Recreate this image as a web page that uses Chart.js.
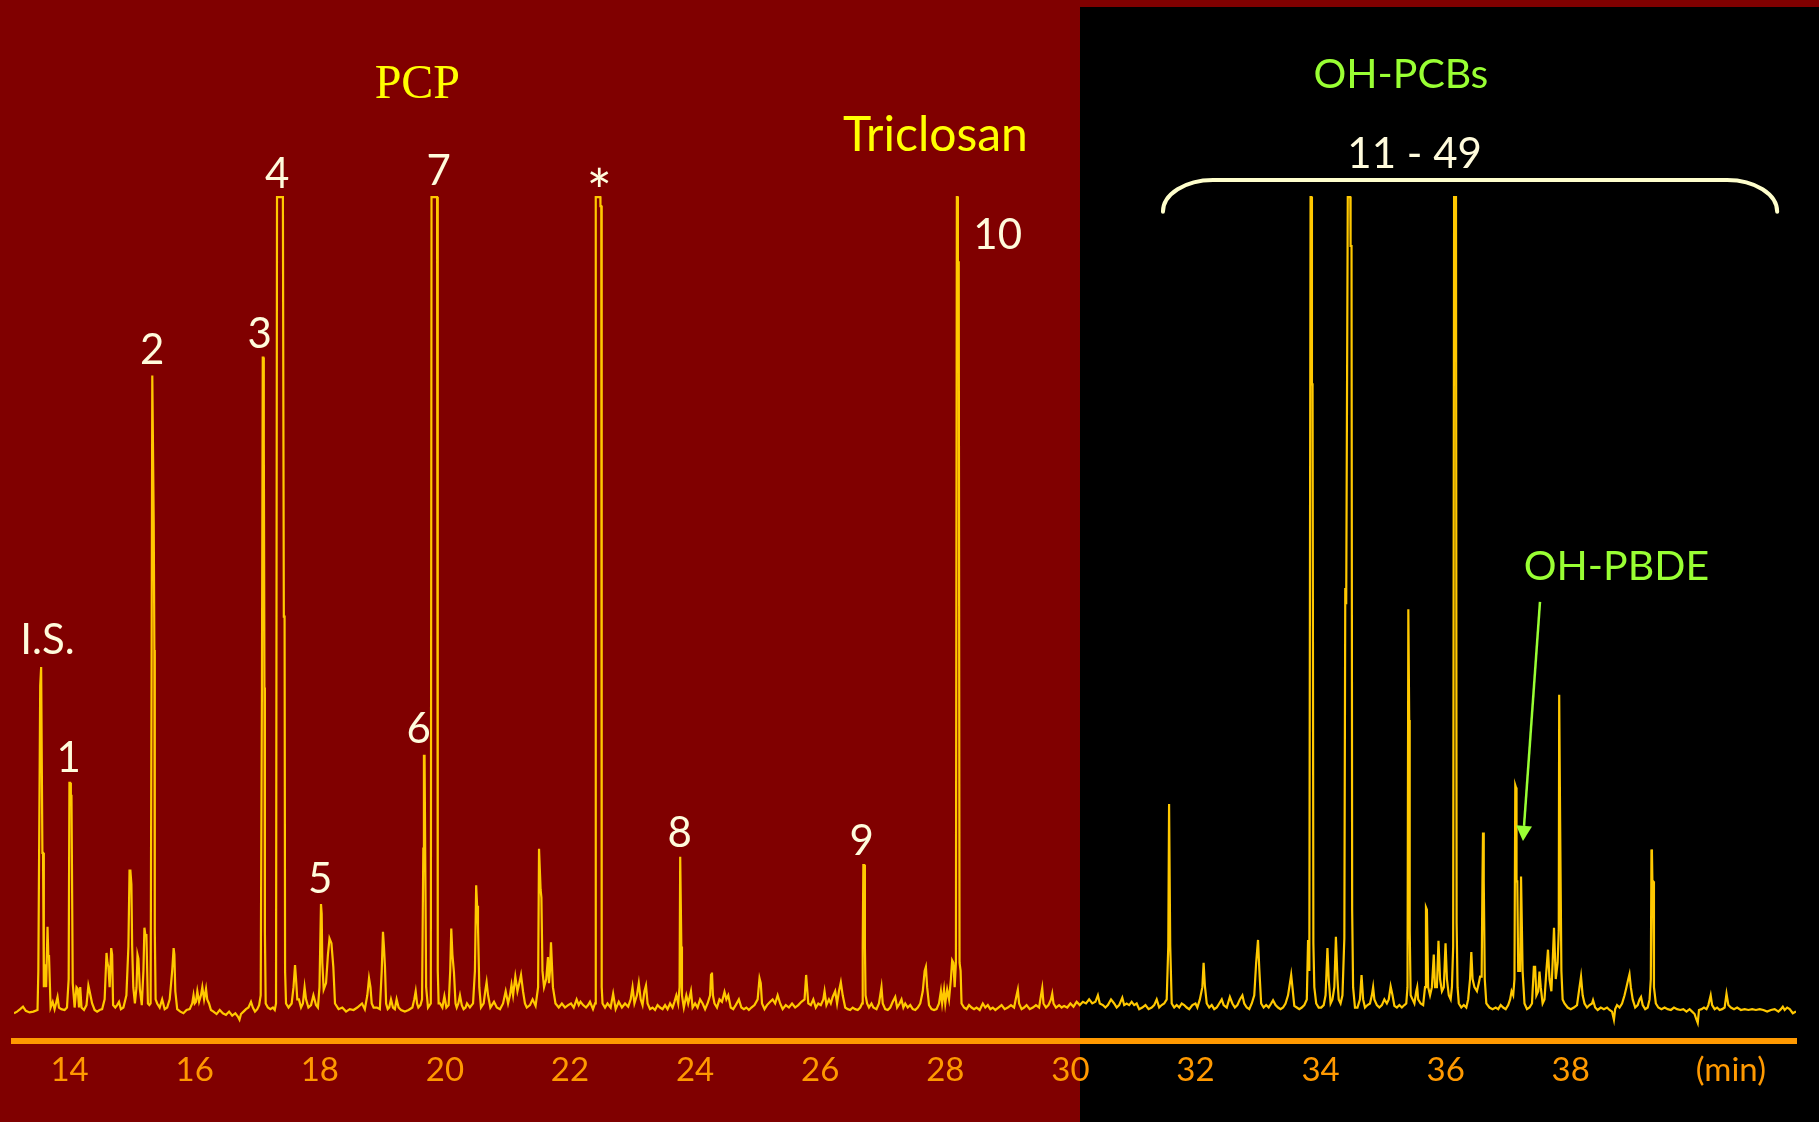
<!DOCTYPE html>
<html>
<head>
<meta charset="utf-8">
<script src="https://cdn.jsdelivr.net/npm/chart.js@4.4.1/dist/chart.umd.min.js"></script>
<style>
html,body{margin:0;padding:0;background:#800000;overflow:hidden}
canvas{display:block}
</style>
</head>
<body>
<canvas id="c" width="1819" height="1122"></canvas>
<script>
// ---------- DATA ----------
// Retention time (min) vs detector signal (% of the clipped full scale)
const chromatogram = [
[13.111,-0.2],[13.16,0.0],[13.21,0.3],[13.255,0.6],[13.30,0.1],[13.36,-0.1],[13.42,0.0],[13.487,0.2],
[13.50,5],[13.53,40],[13.545,42.3],[13.555,42.3],[13.565,19.5],[13.575,19.5],[13.588,3],[13.61,5.8],[13.625,3],
[13.647,10.4],[13.66,6.8],[13.671,6.8],[13.696,0.5],[13.73,1.2],[13.76,0.3],[13.807,1.8],[13.83,0.5],[13.867,0.3],
[13.92,0.2],[13.958,0.5],[13.985,4],[13.997,28.1],[14.008,28.1],[14.02,26.5],[14.03,26.5],[14.05,3.5],[14.08,0.5],
[14.11,3.0],[14.13,2.8],[14.15,0.5],[14.17,3.0],[14.19,0.5],[14.23,0.2],[14.27,0.8],[14.30,3.2],[14.32,2.5],
[14.36,1.0],[14.40,0.2],[14.44,0.0],[14.48,0.2],[14.52,0.3],[14.56,1.5],[14.59,7.2],[14.605,6.0],[14.62,5.5],
[14.64,3],[14.665,7.8],[14.68,7.0],[14.695,0.8],[14.73,0.5],[14.76,0.8],[14.79,1.2],[14.82,0.3],[14.86,0.5],
[14.908,2.0],[14.94,8],[14.958,17.3],[14.972,17.3],[14.988,15.6],[15.00,8],[15.018,3],[15.044,1],[15.07,3],
[15.085,7],[15.10,6.5],[15.123,2.8],[15.154,0.8],[15.18,5],[15.196,10.3],[15.212,9.4],[15.228,9.4],[15.252,1],
[15.275,0.8],[15.295,1.0],[15.31,40],[15.322,78.1],[15.332,78.1],[15.345,60],[15.355,44.4],[15.362,10],[15.375,1.5],
[15.40,1.0],[15.44,0.5],[15.48,1.5],[15.52,0.3],[15.56,0.5],[15.60,1.5],[15.64,5.0],[15.663,7.8],[15.675,7.0],
[15.69,2.5],[15.72,0.3],[15.77,0.0],[15.82,-0.2],[15.87,0.2],[15.92,0.3],[15.96,1.0],[15.981,2.0],[16.00,1.0],
[16.02,1.2],[16.042,2.5],[16.07,1.2],[16.10,2.0],[16.122,3.0],[16.15,1.5],[16.181,2.8],[16.20,1.5],[16.229,1.0],
[16.26,0.2],[16.30,0.0],[16.35,-0.3],[16.40,0.2],[16.45,-0.2],[16.50,-0.4],[16.55,0.0],[16.60,-0.5],[16.65,-0.2],
[16.69,-0.6],[16.716,-1.0],[16.74,-0.3],[16.78,0.0],[16.82,0.3],[16.86,0.5],[16.90,1.2],[16.93,0.5],[16.964,0.0],
[17.00,0.3],[17.03,0.8],[17.055,2],[17.075,40],[17.088,80.3],[17.097,80.3],[17.105,70],[17.115,39.8],[17.122,10],
[17.135,1],[17.17,0.5],[17.21,0.3],[17.25,0.5],[17.28,0.2],[17.30,1],[17.316,100],[17.41,100],[17.425,48.5],
[17.437,48.5],[17.445,5],[17.46,1],[17.50,0.5],[17.55,1.0],[17.58,3],[17.604,5.7],[17.62,4],[17.64,1.5],
[17.666,1.5],[17.70,0.5],[17.73,1.0],[17.757,3.0],[17.78,1.5],[17.818,0.5],[17.86,0.8],[17.898,2.0],[17.939,0.8],
[17.97,0.5],[17.995,3],[18.019,13.2],[18.03,12],[18.04,6],[18.062,2.7],[18.10,3.5],[18.13,7],[18.155,9.0],
[18.186,8.4],[18.216,5.5],[18.243,1.0],[18.30,0.3],[18.36,0.5],[18.42,0.0],[18.48,0.3],[18.54,0.2],[18.60,0.5],
[18.675,1.0],[18.72,0.3],[18.76,2.0],[18.787,4.1],[18.81,3.0],[18.83,1.0],[18.86,0.5],[18.914,0.5],[18.96,0.3],
[18.99,5],[19.01,9.8],[19.025,8],[19.042,5.5],[19.06,1.0],[19.086,0.3],[19.11,0.5],[19.138,1.5],[19.17,0.5],
[19.20,0.3],[19.228,1.5],[19.26,0.5],[19.30,0.2],[19.36,0.0],[19.42,0.2],[19.48,0.5],[19.51,1.5],[19.533,2.5],
[19.555,1.0],[19.576,0.5],[19.61,0.8],[19.635,1.5],[19.655,20],[19.665,31.4],[19.675,31.4],[19.685,20],[19.70,3],
[19.73,0.5],[19.775,1],[19.786,100],[19.875,100],[19.886,5],[19.90,1],[19.922,1.0],[19.96,0.5],[19.992,1.9],
[20.024,0.5],[20.06,0.8],[20.085,5],[20.102,10.2],[20.12,7],[20.145,4.8],[20.17,1],[20.189,0.5],[20.215,1.0],
[20.241,2.0],[20.27,0.8],[20.299,0.3],[20.33,0.5],[20.353,1.0],[20.40,0.5],[20.45,1.0],[20.48,5],[20.50,15.5],
[20.515,13],[20.529,10.5],[20.55,3],[20.577,0.5],[20.62,1.0],[20.645,2.5],[20.667,3.6],[20.69,2],[20.727,0.5],
[20.785,1.2],[20.83,0.5],[20.881,0.3],[20.93,1.0],[20.972,2.5],[21.01,1.0],[21.04,2.0],[21.065,3.3],[21.09,2],
[21.126,4.3],[21.16,2.5],[21.19,3.5],[21.217,4.5],[21.249,2.5],[21.28,1.0],[21.309,0.5],[21.36,0.8],[21.402,1.5],
[21.45,0.7],[21.49,3],[21.505,20],[21.515,20],[21.53,15],[21.543,14],[21.56,5],[21.585,3],[21.62,4],[21.648,6.7],
[21.664,3.5],[21.68,5],[21.696,8.5],[21.71,6],[21.727,3],[21.768,1.0],[21.82,0.5],[21.87,1.0],[21.92,0.5],
[21.97,0.8],[22.016,1.0],[22.06,0.5],[22.106,1.5],[22.14,0.8],[22.168,1.2],[22.21,0.8],[22.256,0.5],[22.29,0.8],
[22.32,1.2],[22.368,0.3],[22.40,1],[22.412,100],[22.485,100],[22.487,98.9],[22.50,98.9],[22.507,3],[22.52,1],
[22.56,0.5],[22.60,1.0],[22.65,0.5],[22.69,2.2],[22.73,0.3],[22.78,1.2],[22.83,0.5],[22.88,1.0],[22.93,0.6],
[22.97,1.5],[23.00,3.0],[23.03,1.0],[23.07,2.0],[23.10,3.5],[23.13,1.5],[23.16,0.8],[23.19,2.5],[23.215,3.2],
[23.24,1.0],[23.28,0.3],[23.32,0.5],[23.36,0.2],[23.40,0.8],[23.44,0.5],[23.48,0.3],[23.52,0.8],[23.56,0.3],
[23.60,1.0],[23.64,0.5],[23.67,1.2],[23.70,2.0],[23.73,1.0],[23.752,3],[23.762,19],[23.772,19],[23.78,8],
[23.79,2],[23.82,0.5],[23.86,2.0],[23.89,1.0],[23.934,2.5],[23.96,0.5],[24.00,1.0],[24.04,0.5],[24.08,1.5],
[24.12,1.0],[24.16,0.3],[24.20,1.0],[24.24,2.0],[24.255,4.5],[24.27,4.8],[24.285,2],[24.31,1.0],[24.35,0.5],
[24.39,1.5],[24.43,1.2],[24.47,2.4],[24.50,1.5],[24.53,2.0],[24.57,0.5],[24.61,0.3],[24.65,0.8],[24.70,1.5],
[24.74,0.5],[24.78,0.3],[24.82,0.5],[24.86,0.2],[24.90,0.5],[24.95,0.8],[25.00,1.5],[25.03,4.1],[25.05,3.5],
[25.07,1.0],[25.11,0.3],[25.15,0.8],[25.20,1.2],[25.24,1.5],[25.28,1.0],[25.32,2.0],[25.36,1.0],[25.40,0.3],
[25.45,0.8],[25.50,0.5],[25.55,1.0],[25.60,0.5],[25.65,0.8],[25.70,1.2],[25.75,1.5],[25.775,4.5],[25.79,3],
[25.81,1.0],[25.85,0.8],[25.89,1.5],[25.93,0.5],[25.97,1.0],[26.01,0.8],[26.05,1.5],[26.07,2.5],[26.10,0.8],
[26.14,1.5],[26.17,1.0],[26.20,1.8],[26.24,2.5],[26.27,1.0],[26.30,2.5],[26.33,3.6],[26.36,2.0],[26.40,0.5],
[26.44,0.3],[26.48,0.2],[26.52,0.5],[26.56,0.3],[26.60,0.2],[26.64,0.5],[26.67,1.0],[26.68,8],[26.69,18],
[26.705,18],[26.715,8],[26.725,2],[26.75,1.0],[26.78,0.5],[26.82,1.0],[26.85,0.5],[26.90,0.3],[26.94,1.0],
[26.97,2.5],[26.98,3.0],[27.00,1.0],[27.04,0.3],[27.08,0.2],[27.12,0.5],[27.16,1.2],[27.20,1.8],[27.23,0.5],
[27.27,1.0],[27.30,1.5],[27.33,0.5],[27.36,1.0],[27.40,0.5],[27.44,0.8],[27.48,0.3],[27.52,0.2],[27.56,0.5],
[27.60,1.0],[27.64,2.5],[27.67,5.0],[27.69,5.5],[27.71,3.0],[27.74,0.8],[27.78,0.3],[27.82,0.2],[27.86,0.3],
[27.90,1.0],[27.93,2.5],[27.95,1.0],[27.98,2.7],[28.00,1.0],[28.03,2.7],[28.06,1.5],[28.09,4.0],[28.11,6.3],
[28.13,6.0],[28.15,3],[28.17,6],[28.185,100],[28.197,100],[28.202,92],[28.215,92],[28.228,6],[28.245,5],[28.26,1],
[28.30,0.5],[28.34,0.3],[28.38,0.8],[28.42,0.5],[28.46,0.3],[28.50,0.5],[28.55,0.2],[28.60,1.0],[28.64,0.5],
[28.68,0.8],[28.72,0.3],[28.76,0.5],[28.80,0.2],[28.85,0.5],[28.90,0.8],[28.95,0.3],[29.00,0.5],[29.05,0.8],
[29.10,0.5],[29.14,2.0],[29.16,2.7],[29.18,1.0],[29.22,0.3],[29.26,0.5],[29.30,0.8],[29.35,0.3],[29.40,0.5],
[29.45,0.8],[29.50,0.5],[29.53,2.0],[29.55,2.9],[29.57,1.0],[29.61,0.5],[29.65,0.8],[29.69,1.5],[29.71,2.2],
[29.73,1.0],[29.77,0.5],[29.82,0.8],[29.86,0.5],[29.90,0.7],[29.95,0.5],[30.00,1.0],[30.05,0.6],[30.10,1.2],
[30.15,0.8],[30.20,1.2],[30.25,1.0],[30.30,1.5],[30.35,1.0],[30.40,1.2],[30.44,2.0],[30.47,1.0],[30.52,0.8],
[30.56,0.5],[30.60,0.8],[30.65,1.5],[30.70,1.0],[30.74,0.5],[30.78,0.8],[30.83,1.7],[30.86,0.8],[30.90,1.0],
[30.94,0.8],[30.98,1.2],[31.02,0.8],[31.06,1.0],[31.10,0.3],[31.15,0.5],[31.20,0.8],[31.25,0.3],[31.30,0.5],
[31.34,0.8],[31.38,1.5],[31.42,0.5],[31.46,0.8],[31.50,1.0],[31.54,1.5],[31.565,8],[31.578,25.5],[31.588,25.5],
[31.596,8.2],[31.606,8.2],[31.62,1.0],[31.66,0.5],[31.70,0.8],[31.74,0.5],[31.78,1.0],[31.82,0.8],[31.86,0.5],
[31.90,0.3],[31.95,0.8],[32.00,1.0],[32.03,0.5],[32.07,1.5],[32.11,3],[32.13,6],[32.15,3.2],[32.18,1],[32.22,0.5],
[32.26,0.8],[32.30,0.3],[32.34,0.5],[32.38,1.0],[32.42,1.5],[32.45,0.8],[32.50,0.5],[32.55,1.8],[32.59,1.0],
[32.63,0.5],[32.67,0.8],[32.71,1.5],[32.75,2.0],[32.78,1.0],[32.82,0.5],[32.86,0.3],[32.90,1.0],[32.94,2.0],
[32.97,6],[33.00,8.8],[33.02,5.3],[33.05,1],[33.09,0.5],[33.13,0.8],[33.17,0.5],[33.21,1.0],[33.24,1.4],[33.28,0.8],
[33.32,0.5],[33.36,0.3],[33.40,0.5],[33.44,1.0],[33.48,2.0],[33.51,3.5],[33.53,4.5],[33.55,3.0],[33.58,0.7],
[33.62,0.5],[33.66,0.3],[33.70,0.5],[33.74,0.8],[33.78,1.5],[33.80,8.8],[33.82,5],[33.84,100],[33.855,100],
[33.862,77],[33.872,77],[33.885,8.4],[33.90,3],[33.93,1],[33.97,0.5],[34.01,0.5],[34.05,0.8],[34.08,2],[34.11,7.8],
[34.13,4],[34.16,1.0],[34.19,1.5],[34.22,3],[34.245,9.2],[34.27,4],[34.29,1.5],[34.32,1.0],[34.35,2.0],[34.38,9],
[34.395,52],[34.41,50],[34.435,100],[34.475,100],[34.48,94],[34.495,94],[34.505,12.5],[34.52,3],[34.55,0.5],
[34.59,0.5],[34.63,1.5],[34.655,4.5],[34.68,1.5],[34.71,0.5],[34.75,0.8],[34.79,1.0],[34.82,2],[34.84,3],
[34.86,1.5],[34.90,0.8],[34.94,0.5],[34.98,0.8],[35.02,1.5],[35.06,1.0],[35.09,1.5],[35.12,3.1],[35.15,2.0],
[35.18,0.7],[35.22,0.5],[35.26,0.8],[35.30,0.5],[35.34,0.8],[35.37,1.0],[35.39,3],[35.403,49.4],[35.41,49.4],
[35.417,35.8],[35.425,10],[35.44,2],[35.47,1.5],[35.50,1.0],[35.53,2.5],[35.545,3],[35.56,1.5],[35.60,1.0],
[35.64,0.8],[35.67,3],[35.685,12.8],[35.70,12.5],[35.72,3],[35.75,2],[35.78,3],[35.81,7],[35.83,3],[35.86,3],
[35.885,8.7],[35.91,4],[35.94,2.5],[35.97,3],[35.998,8.4],[36.02,4],[36.05,2],[36.08,1.5],[36.10,3],[36.12,8],
[36.135,100],[36.165,100],[36.175,10.9],[36.19,3],[36.21,1.0],[36.25,0.5],[36.29,0.8],[36.33,0.5],[36.36,1.5],
[36.39,4],[36.41,7.3],[36.43,4],[36.46,3],[36.50,2.5],[36.53,3.5],[36.55,4.3],[36.575,4.3],[36.588,16],[36.597,22],
[36.606,22],[36.612,16],[36.625,4],[36.65,1.0],[36.70,0.5],[36.75,0.3],[36.80,0.5],[36.84,0.3],[36.88,0.8],
[36.92,0.5],[36.96,0.3],[37.00,0.8],[37.03,1.5],[37.054,2.5],[37.08,2],[37.10,4],[37.113,27.8],[37.125,27.5],
[37.133,16],[37.145,16],[37.16,5],[37.19,5],[37.205,16.6],[37.22,16.6],[37.23,5],[37.26,1.0],[37.30,0.3],
[37.34,0.5],[37.38,1],[37.41,5.5],[37.43,5.5],[37.45,2],[37.48,2.5],[37.50,4.9],[37.52,3],[37.55,1.0],[37.58,1.5],
[37.61,5],[37.636,7.6],[37.66,4],[37.69,2.5],[37.71,6],[37.732,10.3],[37.76,4],[37.79,6],[37.808,10],[37.815,38.9],
[37.823,38.9],[37.83,23.3],[37.84,23.3],[37.85,5],[37.87,1.5],[37.90,1.0],[37.95,0.5],[38.00,0.3],[38.05,0.5],
[38.10,0.8],[38.14,3],[38.164,4.3],[38.19,2],[38.22,1.0],[38.26,0.5],[38.30,0.8],[38.34,1.0],[38.356,1.4],
[38.39,0.5],[38.43,0.2],[38.48,0.5],[38.53,0.3],[38.58,0.5],[38.62,0.2],[38.66,0.0],[38.69,-1.0],[38.71,0.3],
[38.74,0.8],[38.78,0.5],[38.82,1.0],[38.86,2],[38.89,3.0],[38.92,4],[38.939,4.6],[38.96,3],[38.99,1.5],[39.03,0.5],
[39.07,0.8],[39.10,1.5],[39.123,1.8],[39.15,0.8],[39.19,0.3],[39.23,0.5],[39.26,1.5],[39.28,4],[39.29,19.9],
[39.298,19.5],[39.305,16],[39.315,16],[39.33,3],[39.36,1.0],[39.40,0.5],[39.45,0.3],[39.50,0.5],[39.55,0.3],
[39.60,0.2],[39.65,0.5],[39.70,0.3],[39.75,0.2],[39.80,0.3],[39.85,0.0],[39.90,0.3],[39.94,0.0],[39.98,-0.3],
[40.01,-1.0],[40.03,-1.4],[40.05,0.2],[40.09,0.3],[40.13,0.5],[40.17,0.3],[40.20,0.8],[40.237,2],[40.26,0.8],
[40.30,0.3],[40.34,0.5],[40.38,0.2],[40.42,0.3],[40.46,0.5],[40.49,2.2],[40.52,0.8],[40.56,0.5],[40.61,0.3],
[40.66,0.5],[40.72,0.2],[40.78,0.3],[40.84,0.2],[40.90,0.3],[40.96,0.2],[41.02,0.3],[41.08,0.2],[41.14,0.0],
[41.20,0.2],[41.26,0.3],[41.32,0.0],[41.36,0.3],[41.39,0.6],[41.42,0.2],[41.46,0.5],[41.50,0.3],[41.55,-0.2],
[41.601,0.0]
];

const tickValues = [14,16,18,20,22,24,26,28,30,32,34,36,38];
const unitLabel = '(min)';
const unitLabelAt = 40.56;

// Peak labels: text, retention time, signal level of the label centre
const peakLabelText  = ['I.S.','1','2','3','4','5','6','7','*','8','9','10'];
const peakLabelTime  = [13.655,13.990,15.317,17.036,17.316,18.002,19.585,19.906,22.463,23.758,26.661,28.858];
const peakLabelLevel = [45.86,31.38,81.46,83.43,103.07,16.52,34.94,103.44,102.52,22.17,21.07,95.58];

// Group titles
const groupText  = ['PCP','Triclosan','OH-PCBs','11 - 49','OH-PBDE'];
const groupTime  = [19.554,27.820,35.285,35.509,38.724];
const groupLevel = [114.18,107.92,115.22,105.52,54.82];

// Bracket over peaks 11-49 (time range, end level, top level)
const bracketTime = [31.48,41.30];
const bracketLevel = [98.2,102.1];
// Arrow to the OH-PBDE peak (from / to)
const arrowTime = [37.508,37.236];
const arrowLevel = [50.3,20.96];
// Start of the OH-PCB elution window (black panel)
const panelStart = 30.15;

// ---------- STYLE ----------
const RED = '#800000', BLACK = '#000000', TRACE = '#FFC800', AXIS = '#FF9900';
const CREAM = '#FFFBDC', YELLOW = '#FFFF00', GREEN = '#99FF33', BRACE = '#FFFFCC';

const groupStyle = [
  {font:'48px "Liberation Serif"', color:YELLOW},
  {font:'48px Lato', color:YELLOW},
  {font:'41px Lato', color:GREEN},
  {font:'42px Lato', color:CREAM},
  {font:'41px Lato', color:GREEN}
];

function drawInkCentered(ctx, text, cx, cy) {
  ctx.textAlign = 'left';
  ctx.textBaseline = 'alphabetic';
  const m = ctx.measureText(text);
  const w = m.actualBoundingBoxLeft + m.actualBoundingBoxRight;
  const h = m.actualBoundingBoxAscent + m.actualBoundingBoxDescent;
  const x = cx - w / 2 + m.actualBoundingBoxLeft;
  const y = cy - h / 2 + m.actualBoundingBoxAscent;
  ctx.fillText(text, x, y);
}

const backgroundPlugin = {
  id: 'bg',
  beforeDraw(chart) {
    const {ctx, width, height} = chart;
    const xs = chart.scales.x, ys = chart.scales.y;
    ctx.save();
    ctx.fillStyle = RED;
    ctx.fillRect(0, 0, width, height);
    const x0 = Math.round(xs.getPixelForValue(panelStart));
    const y0 = Math.round(ys.getPixelForValue(123.3));
    ctx.fillStyle = BLACK;
    ctx.fillRect(x0, y0, width - x0, height - y0);
    ctx.restore();
  }
};

const annotationPlugin = {
  id: 'annot',
  afterDraw(chart) {
    const {ctx} = chart;
    const xs = chart.scales.x, ys = chart.scales.y;
    ctx.save();
    // peak labels
    peakLabelText.forEach((t, i) => {
      ctx.font = (t === '*' ? '60px' : '42px') + ' Lato';
      ctx.fillStyle = CREAM;
      drawInkCentered(ctx, t, xs.getPixelForValue(peakLabelTime[i]), ys.getPixelForValue(peakLabelLevel[i]));
    });
    // group titles
    groupText.forEach((t, i) => {
      ctx.font = groupStyle[i].font;
      ctx.fillStyle = groupStyle[i].color;
      drawInkCentered(ctx, t, xs.getPixelForValue(groupTime[i]), ys.getPixelForValue(groupLevel[i]));
    });
    // bracket
    const xL = xs.getPixelForValue(bracketTime[0]), xR = xs.getPixelForValue(bracketTime[1]);
    const yB = ys.getPixelForValue(bracketLevel[0]), yT = ys.getPixelForValue(bracketLevel[1]);
    const rx = 50, ry = yB - yT;
    ctx.strokeStyle = BRACE;
    ctx.lineWidth = 4;
    ctx.lineCap = 'round';
    ctx.beginPath();
    ctx.ellipse(xL + rx, yB, rx, ry, 0, Math.PI, 1.5 * Math.PI);
    ctx.lineTo(xR - rx, yT);
    ctx.ellipse(xR - rx, yB, rx, ry, 0, 1.5 * Math.PI, 2 * Math.PI);
    ctx.stroke();
    // arrow
    const ax0 = xs.getPixelForValue(arrowTime[0]), ay0 = ys.getPixelForValue(arrowLevel[0]);
    const ax1 = xs.getPixelForValue(arrowTime[1]), ay1 = ys.getPixelForValue(arrowLevel[1]);
    const dx = ax1 - ax0, dy = ay1 - ay0, len = Math.hypot(dx, dy);
    const ux = dx / len, uy = dy / len;
    const headLen = 15, headHalf = 8;
    const bx = ax1 - ux * headLen, by = ay1 - uy * headLen;
    ctx.strokeStyle = GREEN;
    ctx.fillStyle = GREEN;
    ctx.lineWidth = 2.5;
    ctx.lineCap = 'butt';
    ctx.beginPath();
    ctx.moveTo(ax0, ay0);
    ctx.lineTo(bx, by);
    ctx.stroke();
    ctx.beginPath();
    ctx.moveTo(ax1, ay1);
    ctx.lineTo(bx - uy * headHalf, by + ux * headHalf);
    ctx.lineTo(bx + uy * headHalf, by - ux * headHalf);
    ctx.closePath();
    ctx.fill();
    ctx.restore();
  }
};

new Chart(document.getElementById('c'), {
  type: 'line',
  data: {
    datasets: [{
      data: chromatogram.map(p => ({x: p[0], y: p[1]})),
      borderColor: TRACE,
      borderWidth: 2.2,
      pointRadius: 0,
      tension: 0,
      fill: false
    }]
  },
  options: {
    responsive: false,
    animation: false,
    devicePixelRatio: 1,
    parsing: true,
    layout: {padding: {left: 14, right: 23, top: 0, bottom: 0}},
    plugins: {legend: {display: false}, tooltip: {enabled: false}},
    scales: {
      x: {
        type: 'linear',
        min: 13.111,
        max: 41.601,
        grid: {display: false, drawTicks: false},
        border: {display: true, color: AXIS, width: 6},
        ticks: {
          color: AXIS,
          font: {family: 'Lato', size: 33},
          padding: 10,
          autoSkip: false,
          maxRotation: 0,
          minRotation: 0,
          callback: (v) => (Math.abs(v - unitLabelAt) < 1e-6 ? unitLabel : String(v))
        },
        afterBuildTicks: (s) => {
          s.ticks = tickValues.map(v => ({value: v})).concat([{value: unitLabelAt}]);
        },
        afterFit: (s) => { s.height = 81.4; }
      },
      y: {type: 'linear', display: false, min: -3.56, max: 124.2}
    }
  },
  plugins: [backgroundPlugin, annotationPlugin]
});
</script>
</body>
</html>
